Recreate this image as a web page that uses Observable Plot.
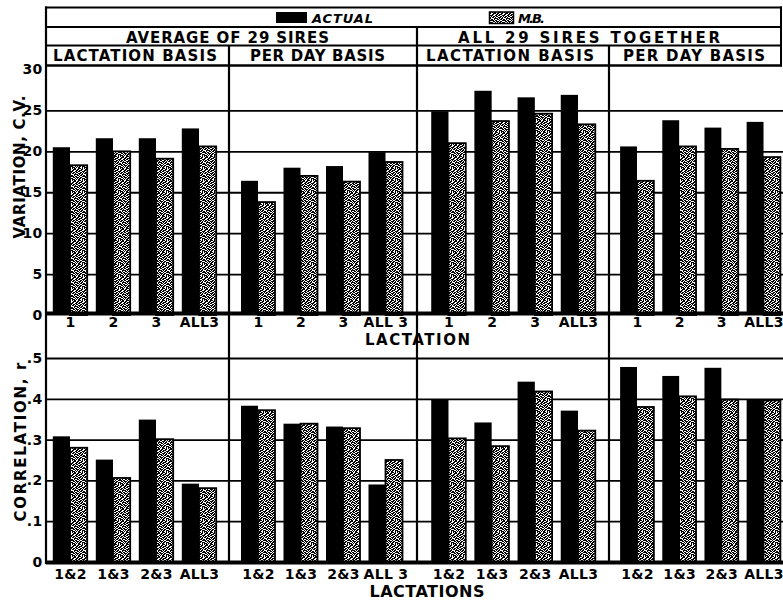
<!DOCTYPE html>
<html><head><meta charset="utf-8">
<script src="https://cdn.jsdelivr.net/npm/d3@7"></script>
<script src="https://cdn.jsdelivr.net/npm/@observablehq/plot@0.6"></script>
<style>
html,body{margin:0;padding:0;background:#fff;overflow:hidden;}
#chart{position:relative;width:783px;height:601px;overflow:hidden;background:#fff;}
#chart svg{position:absolute;}
</style></head><body><div id="chart"></div>
<script>
// ---- categories / labels ----
const lactations = ["1", "2", "3", "ALL3"];
const lactationPairs = ["1&2", "1&3", "2&3", "ALL3"];
const legendLabels = ["ACTUAL", "M.B."];
const headerGroups = ["AVERAGE OF 29 SIRES", "ALL 29 SIRES TOGETHER"];
const headerBases = ["LACTATION BASIS", "PER DAY BASIS", "LACTATION BASIS", "PER DAY BASIS"];
const cvTicks = [0, 5, 10, 15, 20, 25, 30];
const rTicks = [0, 0.1, 0.2, 0.3, 0.4, 0.5];

// ---- variation, C.V. (top row) ----
const cvActualAvgLact = [20.5, 21.6, 21.6, 22.8];
const cvMBAvgLact     = [18.3, 20.0, 19.1, 20.6];
const cvActualAvgDay  = [16.4, 18.0, 18.2, 19.9];
const cvMBAvgDay      = [13.8, 17.0, 16.3, 18.7];
const cvActualAllLact = [24.9, 27.4, 26.6, 26.9];
const cvMBAllLact     = [21.0, 23.7, 24.6, 23.3];
const cvActualAllDay  = [20.6, 23.8, 22.9, 23.6];
const cvMBAllDay      = [16.4, 20.6, 20.3, 19.3];

// ---- correlation, r (bottom row) ----
const rActualAvgLact = [0.308, 0.251, 0.349, 0.192];
const rMBAvgLact     = [0.280, 0.206, 0.301, 0.181];
const rActualAvgDay  = [0.383, 0.339, 0.332, 0.190];
const rMBAvgDay      = [0.372, 0.339, 0.328, 0.250];
const rActualAllLact = [0.399, 0.342, 0.442, 0.371];
const rMBAllLact     = [0.303, 0.284, 0.418, 0.322];
const rActualAllDay  = [0.478, 0.456, 0.476, 0.398];
const rMBAllDay      = [0.380, 0.406, 0.398, 0.396];

const chart = document.getElementById("chart");
const FONT = '"DejaVu Sans", Verdana, sans-serif';

// layout of the four columns (page pixels)
const columns = [
  {left: 0,   width: 229, mL: 46, xr: [48.5, 220.5],   axisY: true,  all3: "ALL3"},
  {left: 229, width: 188, mL: 0,  xr: [236.75, 406.75], axisY: false, all3: "ALL 3"},
  {left: 417, width: 192, mL: 0,  xr: [426.9, 599.6],   axisY: false, all3: "ALL3"},
  {left: 609, width: 174, mL: 0,  xr: [615.9, 784.6],   axisY: false, all3: "ALL3"}
];
const rows = [
  {top: 0, height: 340, mT: 69.5, mB: 25, domain: [0, 30], ticks: cvTicks,
   grid: cvTicks.filter(d => d > 0 && d < 30), groups: lactations, tickPad: 2, baseDy: -2,
   fmt: d => String(d),
   series: [[cvActualAvgLact, cvMBAvgLact], [cvActualAvgDay, cvMBAvgDay],
            [cvActualAllLact, cvMBAllLact], [cvActualAllDay, cvMBAllDay]]},
  {top: 340, height: 261, mT: 18, mB: 39, domain: [0, 0.5], ticks: rTicks,
   grid: rTicks.filter(d => d > 0), groups: lactationPairs, tickPad: 7, baseDy: 0,
   fmt: d => d === 0 ? "0" : d3.format(".1f")(d).replace(/^0/, ""),
   series: [[rActualAvgLact, rMBAvgLact], [rActualAvgDay, rMBAvgDay],
            [rActualAllLact, rMBAllLact], [rActualAllDay, rMBAllDay]]}
];

rows.forEach(row => {
  columns.forEach((col, ci) => {
    const [actual, mb] = row.series[ci];
    const data = row.groups.map((g, i) => ({group: g, actual: actual[i], mb: mb[i]}));
    const r0 = col.xr[0] - col.left, r1 = col.xr[1] - col.left;
    const bw = (r1 - r0) / row.groups.length * 0.8;
    const svg = Plot.plot({
      width: col.width, height: row.height,
      marginLeft: col.mL, marginRight: 0, marginTop: row.mT, marginBottom: row.mB,
      style: {fontFamily: FONT, fontSize: "14px", fontWeight: "bold", letterSpacing: "0.3px",
              background: "transparent", color: "black", overflow: "visible"},
      x: {type: "band", domain: row.groups, range: [r0, r1], paddingInner: 0.2, paddingOuter: 0.1,
          round: false, label: null, tickSize: 0, tickPadding: row.tickPad,
          tickFormat: d => d === "ALL3" ? col.all3 : d},
      y: {domain: row.domain, label: null, ticks: row.ticks, tickSize: 0, tickPadding: 4,
          tickFormat: row.fmt, axis: col.axisY ? "left" : null},
      marks: [
        Plot.ruleY(row.grid, {stroke: "black", strokeWidth: 1.8}),
        Plot.barY(data, {x: "group", y: "actual", fill: "black", insetRight: bw / 2}),
        Plot.barY(data, {x: "group", y: "mb", fill: "url(#mb)", stroke: "black", strokeWidth: 1.8, insetLeft: bw / 2}),
        Plot.ruleY([0], {stroke: "black", strokeWidth: 4, dy: row.baseDy})
      ]
    });
    svg.style.left = col.left + "px";
    svg.style.top = row.top + "px";
    svg.style.maxWidth = "none";
    chart.appendChild(svg);
  });
});

// ---- overlay: frame, headers, legend, titles ----
const ov = d3.create("svg").attr("width", 783).attr("height", 601)
  .style("left", "0px").style("top", "0px").style("pointer-events", "none")
  .attr("font-family", FONT).attr("font-weight", "bold");

// speckled texture used for the M.B. bars
const tile = [
  "101100111010",
  "011101100110",
  "110011011100",
  "100110110011",
  "011011001101",
  "110100111010",
  "001111010110",
  "101001101101",
  "110110010011",
  "011011101100",
  "100101011011",
  "111010110010"
];
const pat = ov.append("defs").append("pattern").attr("id", "mb")
  .attr("patternUnits", "userSpaceOnUse").attr("width", 12).attr("height", 12);
pat.append("rect").attr("width", 12).attr("height", 12).attr("fill", "white");
tile.forEach((rowStr, y) => [...rowStr].forEach((c, x) => {
  if (c === "1") pat.append("rect").attr("x", x).attr("y", y).attr("width", 1).attr("height", 1).attr("fill", "black");
}));

const line = (x1, y1, x2, y2, w = 2) => ov.append("line")
  .attr("x1", x1).attr("y1", y1).attr("x2", x2).attr("y2", y2)
  .attr("stroke", "black").attr("stroke-width", w);
line(45, 7.5, 782, 7.5, 2);
line(45, 27, 782, 27, 2);
line(45, 45.5, 782, 45.5, 2);
line(45, 65.5, 782, 65.5, 2.5);
line(46, 6.5, 46, 564, 2.2);
line(781, 6.5, 781, 66.5, 2);
line(417, 27, 417, 564, 2.2);
line(229, 45.5, 229, 564, 2.2);
line(609, 45.5, 609, 564, 2.2);

const text = (s, x, y, len, size, opts = {}) => {
  const t = ov.append("text").attr("x", x).attr("y", y).attr("font-size", size)
    .attr("fill", "black").text(s);
  if (len) t.attr("textLength", len).attr("lengthAdjust", "spacing");
  if (opts.anchor) t.attr("text-anchor", opts.anchor);
  if (opts.italic) t.attr("font-style", "italic");
  if (opts.transform) t.attr("transform", opts.transform);
  return t;
};

// legend
ov.append("rect").attr("x", 276).attr("y", 12).attr("width", 31).attr("height", 11).attr("fill", "black");
text(legendLabels[0], 312, 22.7, 61, 13, {italic: true});
ov.append("rect").attr("x", 489.5).attr("y", 12).attr("width", 24).attr("height", 11.5)
  .attr("fill", "url(#mb)").attr("stroke", "black").attr("stroke-width", 1.5);
text(legendLabels[1], 518, 22.7, 27, 13, {italic: true});

// column headers
text(headerGroups[0], 126, 42.5, 203, 15);
text(headerGroups[1], 458, 42.5, 262, 15);
[[53, 164], [250, 135], [426, 168], [623, 142]].forEach(([x, len], i) =>
  text(headerBases[i], x, 60.5, len, 15));

// axis titles
text("VARIATION, C.V.", 0, 0, 143, 15, {anchor: "middle", transform: "translate(25,167) rotate(-90)"});
text("CORRELATION, r", 0, 0, 159, 15, {anchor: "middle", transform: "translate(26,442) rotate(-90)"});
text("LACTATION", 417.5, 345, 105, 15, {anchor: "middle"});
text("LACTATIONS", 427, 597, 115, 16, {anchor: "middle"});

chart.appendChild(ov.node());
</script></body></html>
